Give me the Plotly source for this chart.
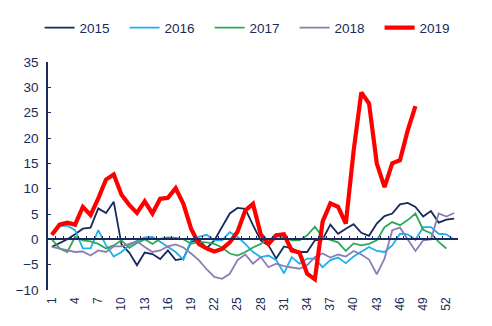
import plotly.graph_objects as go

weeks = list(range(1, 54))

y2015 = [-1.5, -0.8, 0.0, 1.0, 2.1, 2.3, 6.1, 5.2, 7.4, -1.0, -2.6, -5.1, -2.6, -2.9, -3.9,
         -2.2, -4.1, -3.8, -0.5, 0.0, -1.8, -0.2, 2.4, 5.1, 6.2, 6.0, 2.8, -0.2, -1.2, -3.8,
         -1.4, -1.8, -2.5, -2.5, -0.2, 0.0, 2.9, 1.1, 2.1, 3.0, 1.3, 0.7, 3.1, 4.6, 5.1,
         6.9, 7.2, 6.4, 4.5, 5.6, 3.3, 3.9, 4.1]
y2016 = [0.8, 2.6, 2.7, 1.8, -1.8, -1.8, 1.8, -1.2, -3.4, -2.5, -1.2, -0.3, 0.4, 0.5, -0.5,
         -1.5, -2.5, -4.0, -0.2, 0.5, 0.9, -0.2, -0.2, 1.4, 0.5, -0.9, -2.5, -3.5, -3.2, -4.1,
         -6.7, -3.5, -4.8, -3.8, -3.8, -5.5, -4.1, -3.6, -4.7, -3.4, -2.5, -1.5, -2.3, -2.5,
         -1.2, 1.1, 1.0, -0.1, 2.4, 2.4, 1.1, 1.0, -0.1]
y2017 = [0.0, -1.8, -2.5, 0.5, -0.2, -0.4, -0.9, -1.8, -1.2, -0.2, -1.7, -0.7, 0.0, -0.9, 0.1,
         0.4, 0.3, 0.0, -0.9, -0.5, -0.6, -0.9, -1.6, -2.8, -3.2, -2.5, -1.6, -0.9, 0.1, 0.0,
         0.5, -0.2, -0.2, 0.8, 2.5, 0.4, -0.1, -0.6, -2.3, -0.8, -1.2, -0.9, -0.2, 2.4, 3.4,
         2.8, 3.8, 5.1, 1.9, 1.2, -0.5, -1.8]
y2018 = [-1.5, -1.8, -2.2, -2.5, -2.4, -3.2, -2.2, -2.5, -1.4, -1.4, -0.9, -0.4, -1.5, -2.5,
         -2.2, -1.4, -1.0, -1.6, -2.8, -4.1, -5.9, -7.4, -7.8, -6.8, -4.1, -3.0, -4.8, -3.5,
         -5.5, -4.8, -5.3, -5.5, -5.8, -5.1, -3.5, -2.8, -3.6, -3.0, -3.4, -2.3, -3.0, -4.0,
         -6.9, -3.8, 1.8, 2.3, 0.1, -2.3, -0.2, 0.0, 5.1, 4.5, 5.2]
y2019 = [0.9, 2.9, 3.3, 2.9, 6.4, 4.8, 8.1, 11.8, 12.8, 8.8, 6.8, 5.2, 7.5, 5.1, 8.0, 8.2,
         10.1, 7.0, 2.1, -0.9, -1.8, -2.4, -1.9, -0.6, 1.5, 5.7, 7.0, 1.0, -0.9, 0.8, 1.0,
         -2.2, -2.6, -6.8, -7.9, 3.5, 7.1, 6.4, 3.1, 17.4, 29.0, 26.8, 15.0, 10.3, 15.0, 15.6,
         21.5, 26.3]

tick_labels = [1, 4, 7, 10, 13, 16, 19, 22, 25, 28, 31, 34, 37, 40, 43, 46, 49, 52]

series = [
    ("2015", y2015, "#172a5e", 1.8),
    ("2016", y2016, "#1fb1ec", 1.8),
    ("2017", y2017, "#2fa85c", 1.8),
    ("2018", y2018, "#8e7db4", 1.8),
    ("2019", y2019, "#ff0000", 4.2),
]

NAVY = "#1b2a5a"
FONT = "Arial, Liberation Sans, sans-serif"

fig = go.Figure()
for name, vals, color, w in series:
    fig.add_trace(go.Scatter(
        x=weeks[:len(vals)], y=vals, mode="lines", name=name,
        line=dict(color=color, width=w),
        xaxis="x2" if name == "2019" else "x",
    ))

YMIN, YMAX = -10, 35
XR = [0.5, 53.5]

fig.update_layout(
    width=492, height=326,
    margin=dict(l=48, r=34, t=62, b=36, autoexpand=False),
    paper_bgcolor="white", plot_bgcolor="white",
    font=dict(family=FONT, color=NAVY),
    showlegend=True,
    legend=dict(orientation="h", x=-0.0205, xanchor="left",
                y=1.15, yanchor="middle",
                font=dict(size=13.5, color=NAVY), bgcolor="rgba(0,0,0,0)",
                traceorder="normal", entrywidth=40, entrywidthmode="pixels"),
    xaxis=dict(range=XR, tickvals=tick_labels, ticktext=[str(t) for t in tick_labels],
               tickangle=-90, ticks="", showline=False, showgrid=False, zeroline=False,
               tickfont=dict(size=12, color=NAVY), ticklabelstandoff=4),
    xaxis2=dict(range=XR, overlaying="x", anchor="free",
                position=(0 - YMIN) / (YMAX - YMIN),
                tickvals=[i + 0.5 for i in range(0, 54)],
                ticks="inside", ticklen=3, tickcolor=NAVY, tickwidth=1,
                showticklabels=False, showline=True, linecolor=NAVY, linewidth=1.5,
                showgrid=False, zeroline=False),
    yaxis=dict(range=[YMIN, YMAX], dtick=5, tick0=0, ticks="inside", ticklen=3,
               tickcolor=NAVY, showline=True, linecolor=NAVY, linewidth=1.5,
               showgrid=False, zeroline=False, tickfont=dict(size=13.5, color=NAVY),
               ticklabelstandoff=5),
)

fig.write_html("out.html")
